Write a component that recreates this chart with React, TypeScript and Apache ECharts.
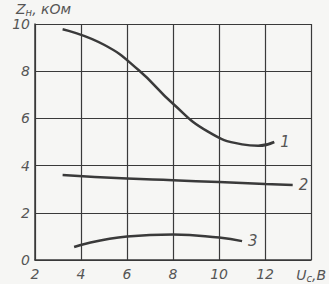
import React, { useEffect, useRef } from "react";
import * as echarts from "echarts";

const xTicks = [2, 4, 6, 8, 10, 12, 14];
const yTicks = [0, 2, 4, 6, 8, 10];
const curve1: [number, number][] = [
  [3.2, 9.78], [5, 9.12], [6.5, 8.05], [8, 6.62], [9.5, 5.45], [11, 4.9], [11.7, 4.84], [12.4, 5.0],
];
const curve2: [number, number][] = [
  [3.2, 3.6], [6, 3.45], [8, 3.38], [10, 3.3], [12, 3.22], [13.2, 3.18],
];
const curve3: [number, number][] = [
  [3.7, 0.55], [6, 1.0], [8, 1.08], [10, 0.95], [11, 0.8],
];
const curveNames = ["1", "2", "3"];

export default function App() {
  const ref = useRef<HTMLDivElement>(null);
  useEffect(() => {
    document.body.style.margin = "0";
    const chart = echarts.init(ref.current!, undefined, { renderer: "svg" });
    const ink = "#3a3a3a";
    const labelFont = { fontFamily: "DejaVu Sans", fontStyle: "italic" as const, fontSize: 14, color: "#555" };
    const mkSeries = (data: [number, number][], name: string) => ({
      type: "line",
      name,
      data,
      smooth: 0.5,
      showSymbol: false,
      lineStyle: { color: ink, width: 2.5 },
      endLabel: { show: true, formatter: name, distance: 6, ...labelFont, fontSize: 15 },
    });
    chart.setOption({
      animation: false,
      backgroundColor: "#f6f6f4",
      grid: { left: 35, right: 13, top: 24, bottom: 24 },
      xAxis: {
        type: "value",
        min: xTicks[0],
        max: xTicks[xTicks.length - 1],
        interval: 2,
        axisLine: { show: true, lineStyle: { color: ink, width: 1.5 } },
        axisTick: { show: false },
        splitLine: { show: true, lineStyle: { color: ink, width: 1.2 } },
        axisLabel: {
          ...labelFont,
          margin: 7,
          showMaxLabel: true,
          formatter: (v: number) => (v === 14 ? "{u|U}{s|c}{u|,B}" : String(v)),
          rich: {
            u: { ...labelFont, fontSize: 14 },
            s: { ...labelFont, fontSize: 10, padding: [6, 0, 0, 0] },
          },
        },
      },
      yAxis: {
        type: "value",
        min: yTicks[0],
        max: yTicks[yTicks.length - 1],
        interval: 2,
        axisLine: { show: true, lineStyle: { color: ink, width: 1.5 } },
        axisTick: { show: false },
        splitLine: { show: true, lineStyle: { color: ink, width: 1.2 } },
        axisLabel: { ...labelFont, margin: 5 },
      },
      graphic: [
        {
          type: "text",
          left: 16,
          top: 2,
          style: {
            text: "{z|Z}{s|н}{z|, кОм}",
            rich: {
              z: { ...labelFont, fontSize: 14, fill: "#555" },
              s: { ...labelFont, fontSize: 10, fill: "#555", padding: [6, 0, 0, 0] },
            },
          },
        },
      ],
      series: [mkSeries(curve1, curveNames[0]), mkSeries(curve2, curveNames[1]), mkSeries(curve3, curveNames[2])],
    });
    return () => chart.dispose();
  }, []);
  return <div ref={ref} style={{ width: 329, height: 284 }} />;
}
